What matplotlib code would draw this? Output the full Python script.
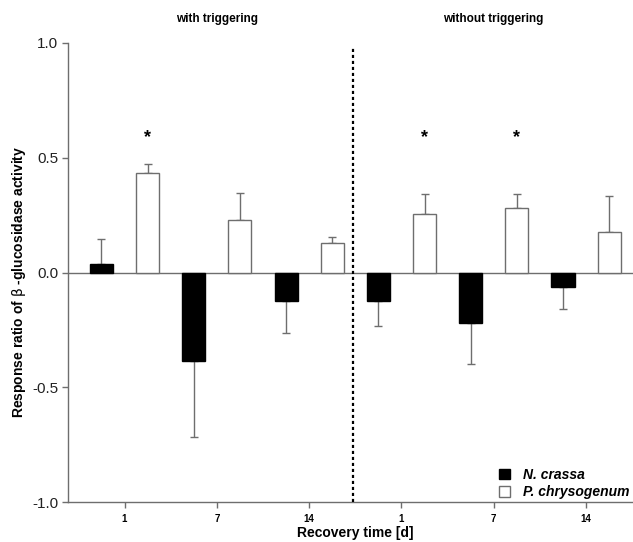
import matplotlib
matplotlib.use("Agg")
import matplotlib.pyplot as plt
from matplotlib.patches import Patch
import numpy as np

plt.rcParams['font.family'] = ['Liberation Sans', 'DejaVu Sans']

# ---- data ----
groups = ["with triggering", "without triggering"]
tick_labels = ["1", "7", "14", "1", "7", "14"]
ncrassa = [0.037, -0.385, -0.125, -0.123, -0.220, -0.063]
ncrassa_err = [0.110, 0.332, 0.137, 0.110, 0.177, 0.094]
pchrys = [0.435, 0.229, 0.130, 0.255, 0.283, 0.178]
pchrys_err = [0.036, 0.116, 0.025, 0.088, 0.060, 0.154]
star_pchrys = [True, False, False, True, True, False]
star_y = 0.587
series_names = ["N. crassa", "P. chrysogenum"]

grey = "#6e6e6e"
W, H = 633, 542
fig = plt.figure(figsize=(W / 100, H / 100), dpi=100)
ax = fig.add_axes([68 / W, 1 - 502 / H, 1 - 68 / W, (502 - 43) / H])

x = np.arange(len(tick_labels))
bw = 0.25
xl = x - bw
xr = x + bw

ax.bar(xl, ncrassa, width=bw, color="black", edgecolor="black", linewidth=1, zorder=3)
ax.bar(xr, pchrys, width=bw, color="white", edgecolor=grey, linewidth=1, zorder=3)

# one-sided error bars
def onesided(vals, errs):
    lo = [e if v < 0 else 0 for v, e in zip(vals, errs)]
    hi = [e if v >= 0 else 0 for v, e in zip(vals, errs)]
    return [lo, hi]

ax.errorbar(xl, ncrassa, yerr=onesided(ncrassa, ncrassa_err), fmt="none",
            ecolor=grey, elinewidth=1, capsize=3, capthick=1, zorder=2)
ax.errorbar(xr, pchrys, yerr=onesided(pchrys, pchrys_err), fmt="none",
            ecolor=grey, elinewidth=1, capsize=3, capthick=1, zorder=2)

ax.axhline(0, color=grey, linewidth=1, zorder=1)

for xi, s in zip(xr, star_pchrys):
    if s:
        ax.text(xi, star_y, "*", ha="center", va="center", fontsize=13,
                fontweight="bold", color="black")

# divider
ax.vlines(2.47, -1, 0.98, colors="black", linewidth=1.6,
          linestyles=(0, (1.4, 1.3)), zorder=4)

ax.set_xlim(-0.612, 5.508)
ax.set_ylim(-1.0, 1.0)
ax.set_yticks([-1.0, -0.5, 0.0, 0.5, 1.0])
ax.set_yticklabels(["-1.0", "-0.5", "0.0", "0.5", "1.0"], fontsize=11, color="#222222")
ax.set_xticks(x)
ax.set_xticklabels(tick_labels, fontsize=7, fontweight="bold")

for side in ["top", "right"]:
    ax.spines[side].set_visible(False)
for side in ["left", "bottom"]:
    ax.spines[side].set_color(grey)
    ax.spines[side].set_linewidth(1)
ax.tick_params(axis="both", colors=grey, length=4, width=1, direction="out")
ax.tick_params(axis="y", labelcolor="#222222", pad=3)
ax.tick_params(axis="x", labelcolor="black", pad=5)

fig.text(355 / W, 1 - 533 / H, "Recovery time [d]", ha="center", va="center",
         fontsize=10, fontweight="bold")
fig.text(19 / W, 1 - 282 / H,
         r"Response ratio of $\mathrm{\beta}$ -glucosidase activity", rotation=90,
         ha="center", va="center", fontsize=10, fontweight="bold")

fig.text(217 / W, 1 - 19 / H, groups[0], ha="center", va="center",
         fontsize=8.5, fontweight="bold")
fig.text(493 / W, 1 - 19 / H, groups[1], ha="center", va="center",
         fontsize=8.5, fontweight="bold")

handles = [Patch(facecolor="black", edgecolor="black"),
           Patch(facecolor="white", edgecolor=grey)]
leg = ax.legend(handles, series_names, loc="upper left",
                bbox_to_anchor=(492 / W, 1 - 461 / H), bbox_transform=fig.transFigure,
                frameon=False, borderpad=0, handlelength=0.8, handleheight=0.8,
                handletextpad=0.9, labelspacing=0.25,
                prop={"size": 10, "weight": "bold", "style": "italic"})

fig.savefig("out.png", dpi=100)
